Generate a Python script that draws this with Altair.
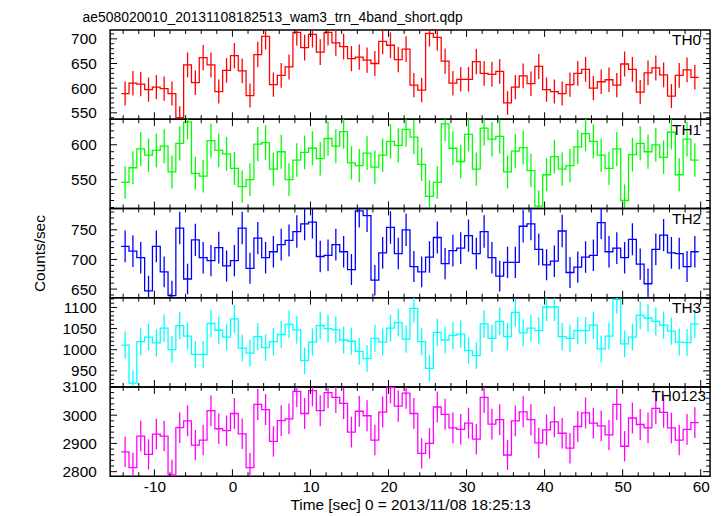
import altair as alt
import pandas as pd

# ---------------- data ----------------
title_text = "ae508020010_20131108182513_wam3_trn_4band_short.qdp"
x_title = "Time [sec] 0 = 2013/11/08 18:25:13"
y_title = "Counts/sec"
first_bin_centre = -13.75
bin_width = 1.0

th0 = [589, 610, 608, 597, 602, 599, 589, 540, 647, 611,
       662, 647, 593, 636, 666, 635, 585, 668, 705, 607,
       626, 643, 713, 682, 709, 673, 713, 692, 684, 660,
       663, 657, 650, 695, 687, 658, 679, 606, 596, 711,
       703, 655, 610, 618, 618, 654, 630, 628, 634, 570,
       602, 625, 609, 644, 597, 593, 589, 607, 630, 638,
       600, 613, 617, 606, 649, 638, 592, 631, 641, 627,
       584, 626, 637, 622]
th1 = [546, 567, 594, 585, 592, 598, 561, 602, 633, 559,
       555, 606, 592, 587, 566, 540, 550, 601, 603, 565,
       590, 550, 578, 589, 595, 580, 609, 598, 619, 574,
       570, 588, 568, 585, 605, 599, 622, 611, 572, 526,
       546, 630, 595, 576, 615, 565, 624, 608, 612, 561,
       591, 596, 563, 512, 557, 583, 565, 570, 597, 616,
       605, 585, 566, 594, 520, 586, 602, 590, 600, 582,
       618, 557, 608, 578]
th2 = [722, 714, 703, 647, 722, 679, 639, 753, 667, 733,
       703, 698, 720, 689, 698, 753, 685, 736, 703, 713,
       725, 732, 747, 760, 763, 705, 707, 725, 713, 683,
       782, 774, 665, 711, 754, 710, 750, 688, 679, 704,
       737, 693, 715, 719, 740, 710, 747, 703, 672, 695,
       695, 756, 760, 717, 691, 697, 748, 678, 687, 704,
       707, 762, 713, 719, 703, 734, 692, 659, 717, 741,
       711, 710, 688, 713]
th3 = [1011, 921, 1019, 1030, 1016, 1051, 1000, 1057, 1032, 989,
       989, 1062, 1046, 1030, 1073, 1004, 992, 1031, 1005, 1019,
       1036, 1060, 1047, 974, 1018, 1057, 1050, 1047, 1023, 1020,
       996, 979, 1027, 1018, 1051, 1064, 1025, 1098, 1019, 956,
       1041, 1023, 1034, 1037, 998, 986, 1061, 1027, 1067, 1031,
       1088, 1040, 1051, 1045, 1101, 1101, 1031, 1027, 1045, 1045,
       1058, 1002, 1032, 1119, 1014, 1030, 1081, 1075, 1067, 1058,
       1044, 1018, 1017, 1061]
th0123 = [2870, 2814, 2926, 2861, 2933, 2926, 2789, 2956, 2980, 2894,
          2912, 3016, 2952, 2945, 3006, 2934, 2814, 3038, 3020, 2907,
          2981, 2987, 3084, 3006, 3087, 3016, 3080, 3063, 3042, 2940,
          3014, 2998, 2912, 3011, 3098, 3032, 3078, 3006, 2865, 2900,
          3029, 3003, 2955, 2950, 2972, 2915, 3063, 2968, 2984, 2859,
          2980, 3012, 2984, 2902, 2948, 2976, 2936, 2883, 2960, 3008,
          2972, 2962, 2930, 3038, 2890, 2990, 2967, 2955, 3024, 3010,
          2955, 2912, 2950, 2974]

panel_names = ["TH0", "TH1", "TH2", "TH3", "TH0123"]
series = [th0, th1, th2, th3, th0123]

x_domain = [-15.67, 61.2]
y_domains = [[537, 718], [508.6, 636.7], [635.5, 786], [912, 1123], [2784, 3100]]
x_major_ticks = [-10, 0, 10, 20, 30, 40, 50, 60]
x_minor_ticks = [-14, -12, -8, -6, -4, -2, 2, 4, 6, 8, 12, 14, 16, 18,
                 22, 24, 26, 28, 32, 34, 36, 38, 42, 44, 46, 48, 52, 54, 56, 58]
y_major_ticks = [[550, 600, 650, 700], [550, 600], [650, 700, 750],
                 [950, 1000, 1050, 1100], [2800, 2900, 3000, 3100]]
y_minor_steps = [10, 10, 10, 10, 20]

# ---------------- style ----------------
colors = ["#ff0000", "#00ff00", "#0000ff", "#00ffff", "#ff00ff"]
FONT = "Liberation Sans"
FS = 15.5
W, H = 605, 90
MAJ, MIN = 7, 4
label_right = [596, 596, 596, 596, 601]
label_base = [15.5, 15.5, 15.5, 15.5, 14.5]


def minor_list(i):
    lo, hi = y_domains[i]
    s = y_minor_steps[i]
    out = []
    v = int(lo // s + 1) * s
    while v <= hi:
        if v not in y_major_ticks[i]:
            out.append(v)
        v += s
    return out


def make_panel(i):
    vals = series[i]
    col = colors[i]
    centres = [first_bin_centre + k * bin_width for k in range(len(vals))]
    pts = pd.DataFrame({"t": centres, "rate": vals})
    edges = pd.DataFrame({
        "t": [c - bin_width / 2 for c in centres] + [centres[-1] + bin_width / 2],
        "rate": vals + [vals[-1]],
    })
    last = i == len(series) - 1
    xs = alt.Scale(domain=x_domain, nice=False, zero=False)
    ys = alt.Scale(domain=y_domains[i], nice=False, zero=False)
    if last:
        xaxis = alt.Axis(values=x_major_ticks, ticks=False, tickSize=0, domain=False,
                         grid=False, labelPadding=3, labelFont=FONT, labelFontSize=FS,
                         labelColor="black", labelExpr="'' + datum.value",
                         labelFlush=False, titleFont=FONT, titleFontSize=FS,
                         titleFontWeight="normal", titleColor="black", titlePadding=3)
    else:
        xaxis = None
    yaxis = alt.Axis(values=y_major_ticks[i], ticks=False, tickSize=0, domain=False,
                     grid=False, labelPadding=14, labelFont=FONT, labelFontSize=FS,
                     labelColor="black", labelExpr="'' + datum.value",
                     labelFlush=False, labelOverlap=False,
                     minExtent=50, maxExtent=50, titleFont=FONT, titleFontSize=FS,
                     titleFontWeight="normal", titleColor="black", titlePadding=13)
    xt = x_title if last else None
    yt = y_title if i == 2 else None

    def X(f="t"):
        return alt.X(f"{f}:Q", scale=xs, axis=xaxis, title=xt)

    def Y(f):
        return alt.Y(f"{f}:Q", scale=ys, axis=yaxis, title=yt)

    step = alt.Chart(edges).mark_line(interpolate="step-after", color=col,
                                      strokeWidth=1.3, clip=True).encode(x=X(), y=Y("rate"))
    err = alt.Chart(pts).transform_calculate(
        lo="datum.rate - sqrt(datum.rate)", hi="datum.rate + sqrt(datum.rate)"
    ).mark_rule(color=col, strokeWidth=1.3, clip=True).encode(x=X(), y=Y("lo"), y2="hi:Q")

    layers = [step, err]
    xmaj = pd.DataFrame({"t": x_major_ticks})
    xmin = pd.DataFrame({"t": x_minor_ticks})
    ymaj = pd.DataFrame({"v": y_major_ticks[i]})
    ymin = pd.DataFrame({"v": minor_list(i)})
    for df, ln in ((xmaj, MAJ), (xmin, MIN)):
        layers.append(alt.Chart(df).mark_rule(color="black", strokeWidth=1).encode(
            x=X(), y=alt.value(0), y2=alt.value(ln)))
        layers.append(alt.Chart(df).mark_rule(color="black", strokeWidth=1).encode(
            x=X(), y=alt.value(H), y2=alt.value(H - ln)))
    for df, ln in ((ymaj, MAJ), (ymin, MIN)):
        layers.append(alt.Chart(df).mark_rule(color="black", strokeWidth=1).encode(
            y=Y("v"), x=alt.value(0), x2=alt.value(ln)))
        layers.append(alt.Chart(df).mark_rule(color="black", strokeWidth=1).encode(
            y=Y("v"), x=alt.value(W), x2=alt.value(W - ln)))
    lab = alt.Chart(pd.DataFrame({"name": [panel_names[i]]})).mark_text(
        align="right", baseline="alphabetic", font=FONT, fontSize=FS, color="black"
    ).encode(text="name:N", x=alt.value(label_right[i]), y=alt.value(label_base[i]))
    layers.append(lab)
    return alt.layer(*layers).properties(width=W, height=H)


panels = [make_panel(i) for i in range(len(series))]

chart = alt.vconcat(*panels, spacing=0, bounds="flush").properties(
    title=alt.TitleParams(title_text, anchor="start", dx=51, fontSize=14, font=FONT,
                          fontWeight="normal", color="black", offset=4),
    padding={"left": 24, "top": 0, "right": 5, "bottom": 0},
    background="white",
).configure_view(stroke="black", strokeWidth=1.5)

chart.save("out.html", embed_options={"renderer": "svg", "actions": False})
